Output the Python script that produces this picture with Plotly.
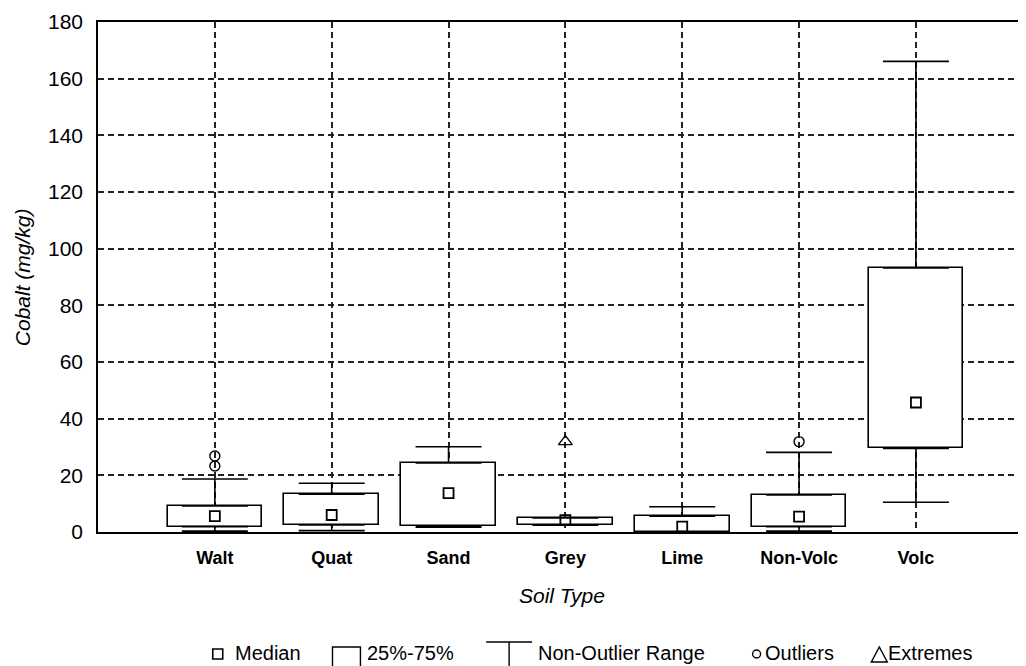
import plotly.graph_objects as go
import numpy as np

# ---- data ----
categories = ["Walt", "Quat", "Sand", "Grey", "Lime", "Non-Volc", "Volc"]
q1 =      [1.9, 2.5, 2.1, 2.4, 0.1, 1.9, 29.5]
median =  [5.6, 6.0, 13.7, 4.2, 1.9, 5.4, 45.7]
q3 =      [9.2, 13.3, 24.4, 5.0, 5.6, 13.1, 93.2]
upper =   [18.7, 17.2, 30.1, 5.0, 8.9, 28.1, 166.1]
lower =   [0.3, 0.5, 1.7, 2.4, 0.0, 0.3, 10.5]
outlier_cat = ["Walt", "Walt", "Non-Volc"]
outlier_val = [26.8, 23.3, 31.9]
extreme_cat = ["Grey"]
extreme_val = [31.9]
y_ticks = [0, 20, 40, 60, 80, 100, 120, 140, 160, 180]

pos = {c: i for i, c in enumerate(categories)}
x = np.arange(len(categories))
q1a, q3a, meda = np.array(q1), np.array(q3), np.array(median)
upa, loa = np.array(upper), np.array(lower)

FONT = "Liberation Sans, Arial, sans-serif"
OFF = 8  # page body margin
W, H = 1026 - OFF, 666 - OFF
# plot area in screen pixels: x 98..1026, y 22..532
L, R, T = 98 - OFF, 0, 22 - OFF
B = H - (532 - OFF)
pw, ph = W - L - R, H - T - B

def px(xs):
    return (xs - OFF - L) / pw

def py(ys):
    return (H - B - (ys - OFF)) / ph

fig = go.Figure()

# boxes (25%-75%)
fig.add_trace(go.Bar(
    x=x, base=q1a, y=q3a - q1a, width=0.81,
    marker=dict(color="white", line=dict(color="black", width=1.6)),
    showlegend=False, hoverinfo="skip"))

# upper whiskers
fig.add_trace(go.Scatter(
    x=x, y=q3a, mode="markers", marker=dict(size=0.1, color="rgba(0,0,0,0)"),
    error_y=dict(type="data", symmetric=False, array=upa - q3a,
                 arrayminus=np.zeros(len(x)), width=33, thickness=1.6, color="black"),
    showlegend=False, hoverinfo="skip"))
# lower whiskers
fig.add_trace(go.Scatter(
    x=x, y=q1a, mode="markers", marker=dict(size=0.1, color="rgba(0,0,0,0)"),
    error_y=dict(type="data", symmetric=False, array=np.zeros(len(x)),
                 arrayminus=q1a - loa, width=33, thickness=1.6, color="black"),
    showlegend=False, hoverinfo="skip"))

# medians
fig.add_trace(go.Scatter(
    x=x, y=meda, mode="markers",
    marker=dict(symbol="square-open", size=10, color="black", line=dict(width=1.8)),
    showlegend=False))
# outliers
fig.add_trace(go.Scatter(
    x=[pos[c] for c in outlier_cat], y=outlier_val, mode="markers",
    marker=dict(symbol="circle-open", size=10, color="black", line=dict(width=1.4)),
    showlegend=False))
# extremes
fig.add_trace(go.Scatter(
    x=[pos[c] for c in extreme_cat], y=extreme_val, mode="markers",
    marker=dict(symbol="triangle-up-open", size=12, color="black", line=dict(width=1.4)),
    showlegend=False))

fig.update_layout(
    width=W, height=H,
    margin=dict(l=L, r=R, t=T, b=B),
    paper_bgcolor="white", plot_bgcolor="white",
    font=dict(family=FONT, color="black"),
    showlegend=False,
    bargap=0,
)

fig.update_xaxes(
    range=[-1, 6.925], tickvals=list(x), ticktext=categories,
    tickfont=dict(family=FONT, size=18, color="black", weight="bold"),
    showgrid=True, gridcolor="#222", gridwidth=1.5, griddash="6px,4px",
    showline=True, linecolor="black", linewidth=1.5, mirror=True,
    ticks="", ticklabelstandoff=9, zeroline=False)

fig.update_yaxes(
    range=[0, 180], tickvals=y_ticks,
    tickfont=dict(family=FONT, size=21, color="black"),
    showgrid=True, gridcolor="#222", gridwidth=1.5, griddash="6px,4px",
    showline=True, linecolor="black", linewidth=1.5, mirror=True,
    ticks="", ticklabelstandoff=9, zeroline=False)

ann = []
ann.append(dict(text="<i>Cobalt (mg/kg)</i>", x=px(22), y=py(277), xref="paper", yref="paper",
                textangle=-90, showarrow=False, font=dict(size=21, family=FONT),
                xanchor="center", yanchor="middle"))
ann.append(dict(text="<i>Soil Type</i>", x=px(563), y=py(595), xref="paper", yref="paper",
                showarrow=False, font=dict(size=21, family=FONT),
                xanchor="center", yanchor="middle"))

leg_y = 653
for label, xs in [("Median", 234), ("25%-75%", 367), ("Non-Outlier Range", 538),
                  ("Outliers", 765), ("Extremes", 889)]:
    ann.append(dict(text=label, x=px(xs), y=py(leg_y), xref="paper", yref="paper",
                    showarrow=False, font=dict(size=20, family=FONT),
                    xanchor="left", yanchor="middle", borderpad=0))
fig.update_layout(annotations=ann)

shapes = []
# median icon
shapes.append(dict(type="rect", xref="paper", yref="paper",
                   x0=px(213), x1=px(223), y0=py(649), y1=py(659),
                   line=dict(color="black", width=1.6)))
# box icon
shapes.append(dict(type="rect", xref="paper", yref="paper",
                   x0=px(333), x1=px(361), y0=py(647), y1=py(672),
                   line=dict(color="black", width=1.4)))
# whisker icon
shapes.append(dict(type="line", xref="paper", yref="paper",
                   x0=px(487), x1=px(533), y0=py(642), y1=py(642),
                   line=dict(color="black", width=1.6)))
shapes.append(dict(type="line", xref="paper", yref="paper",
                   x0=px(510), x1=px(510), y0=py(642), y1=py(670),
                   line=dict(color="black", width=1.4)))
# outlier icon
shapes.append(dict(type="circle", xref="paper", yref="paper",
                   x0=px(754), x1=px(762), y0=py(650), y1=py(658),
                   line=dict(color="black", width=1.4)))
# extreme icon
shapes.append(dict(type="path", xref="paper", yref="paper",
                   path=f"M {px(873)} {py(662)} L {px(889)} {py(662)} L {px(881)} {py(647)} Z",
                   line=dict(color="black", width=1.4)))
fig.update_layout(shapes=shapes)

fig.write_html("out.html")
